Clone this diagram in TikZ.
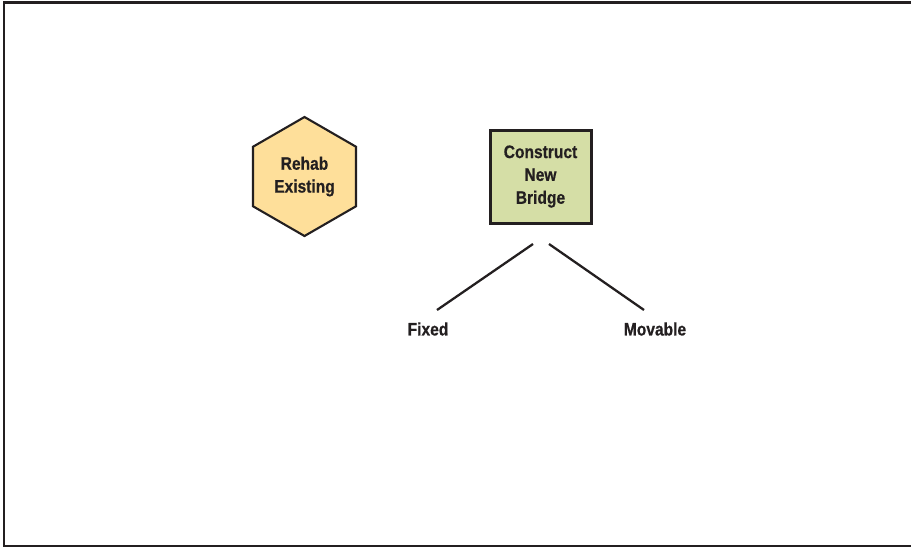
\documentclass[tikz,border=0pt]{standalone}
\usepackage{fontspec}
\setmainfont{Liberation Sans}[FakeStretch=0.86, BoldFeatures={FakeBold=0.6}]
\usetikzlibrary{shapes.geometric}
\definecolor{ink}{HTML}{231F20}
\definecolor{rehabfill}{HTML}{FEDF9A}
\definecolor{newfill}{HTML}{D5DEA6}
\tikzset{
  label text/.style={font=\bfseries\fontsize{10.3}{13}\selectfont, text=ink, align=center, inner sep=0pt},
  hexbox/.style={regular polygon, regular polygon sides=6, shape border rotate=30, draw=ink, line width=1.2pt, fill=rehabfill, minimum size=2.38cm, label text},
  squarebox/.style={rectangle, draw=ink, line width=1.7pt, fill=newfill, minimum width=2.02cm, minimum height=1.86cm, label text},
  branch/.style={draw=ink, line width=1.3pt}
}
\begin{document}
\begin{tikzpicture}
        \useasboundingbox (0,0) rectangle (18.22,-10.96);
        % Frame
        \draw[ink, line width=1.3pt] (18.22,-0.05) -- (0.08,-0.05) -- (0.08,-10.92) -- (18.22,-10.92);

        % Draw nodes
        \node[hexbox] (rehab) at (6.09,-3.53) {Rehab\\Existing};
        \node[squarebox] (new) at (10.81,-3.53) {Construct\\New\\Bridge};
        \node[label text] (fixed) at (8.56,-6.58) {Fixed};
        \node[label text] (movable) at (13.10,-6.58) {Movable};

        % Branch ends
        \coordinate (fork l) at (10.66,-4.88);
        \coordinate (fork r) at (10.98,-4.88);
        \coordinate (fixed top) at (8.74,-6.20);
        \coordinate (movable top) at (12.88,-6.20);

        % Draw connections
        \draw[branch] (fork l) -- (fixed top);
        \draw[branch] (fork r) -- (movable top);
    \end{tikzpicture}
\end{document}
